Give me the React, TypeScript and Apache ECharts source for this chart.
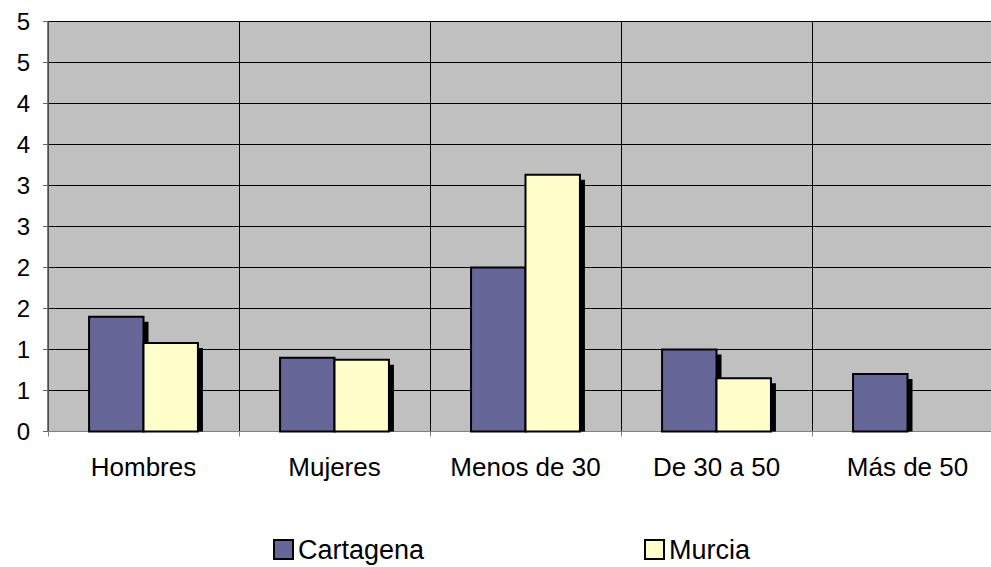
import React, { useEffect, useRef } from "react";
import * as echarts from "echarts";

const categories = ["Hombres", "Mujeres", "Menos de 30", "De 30 a 50", "Más de 50"];
const cartagena = [1.4, 0.9, 2.0, 1.0, 0.7];
const murcia = [1.08, 0.875, 3.13, 0.65, 0];
const yTickLabels = ["0", "1", "1", "2", "2", "3", "3", "4", "4", "5", "5"];
const seriesNames = ["Cartagena", "Murcia"];
const seriesColors = ["#666699", "#FFFFCC"];

const FONT = "'Liberation Sans', Arial, sans-serif";

export default function App() {
  const ref = useRef<HTMLDivElement>(null);
  useEffect(() => {
    if (!ref.current) return;
    const chart = echarts.init(ref.current, undefined, { renderer: "svg" });

    const renderItem = (params: any, api: any) => {
      const cat = api.value(0);
      const val = api.value(1);
      if (!(val > 0)) return null;
      const top = api.coord([cat, val]);
      const base = api.coord([cat, 0]);
      const catW = api.size([1, 0])[0];
      const barW = catW * 0.285;
      const x = top[0] - barW + params.seriesIndex * barW;
      const h = base[1] - top[1];
      return {
        type: "group",
        children: [
          {
            type: "rect",
            shape: { x: x + 5, y: top[1] + 5, width: barW, height: Math.max(h - 5, 0) },
            style: { fill: "#000" },
          },
          {
            type: "rect",
            shape: { x, y: top[1], width: barW, height: h },
            style: { fill: seriesColors[params.seriesIndex], stroke: "#000", lineWidth: 2 },
          },
        ],
      };
    };

    const mkData = (arr: number[]) => arr.map((v, i) => [i, v]);

    const legendBase = {
      top: 536,
      padding: 0,
      itemWidth: 19,
      itemHeight: 19,
      selectedMode: false,
      textStyle: { fontSize: 27, color: "#000", fontFamily: FONT },
    };

    chart.setOption({
      animation: false,
      backgroundColor: "#fff",
      textStyle: { fontFamily: FONT },
      grid: {
        left: 48,
        top: 21.5,
        right: 0,
        bottom: 135.5,
        show: true,
        backgroundColor: "#C0C0C0",
        borderColor: "#808080",
        borderWidth: 1,
      },
      legend: [
        {
          ...legendBase,
          data: [{ name: seriesNames[0], icon: "rect", itemStyle: { color: seriesColors[0], borderColor: "#000", borderWidth: 2 } }],
          left: 273,
        },
        {
          ...legendBase,
          data: [{ name: seriesNames[1], icon: "rect", itemStyle: { color: seriesColors[1], borderColor: "#000", borderWidth: 2 } }],
          left: 644,
        },
      ],
      xAxis: {
        type: "category",
        data: categories,
        axisLine: { show: true, lineStyle: { color: "#808080", width: 1 } },
        axisTick: { show: true, interval: 0, length: 5, lineStyle: { color: "#808080" } },
        axisLabel: { interval: 0, fontSize: 26, color: "#000", margin: 22, fontFamily: FONT },
        splitLine: { show: true, interval: 0, lineStyle: { color: "#000", width: 1 } },
      },
      yAxis: {
        type: "value",
        min: 0,
        max: 5,
        interval: 0.5,
        axisLine: { show: true, lineStyle: { color: "#666", width: 1.5 } },
        axisTick: { show: true, length: 5, lineStyle: { color: "#666" } },
        axisLabel: {
          fontSize: 24,
          color: "#000",
          margin: 18,
          fontFamily: FONT,
          formatter: (v: number) => yTickLabels[Math.round(v / 0.5)] ?? "",
        },
        splitLine: { show: true, lineStyle: { color: "#000", width: 1 } },
      },
      series: [
        {
          name: seriesNames[0],
          type: "custom",
          renderItem,
          data: mkData(cartagena),
          itemStyle: { color: seriesColors[0] },
          encode: { x: 0, y: 1 },
        },
        {
          name: seriesNames[1],
          type: "custom",
          renderItem,
          data: mkData(murcia),
          itemStyle: { color: seriesColors[1] },
          encode: { x: 0, y: 1 },
        },
      ],
    });
    return () => chart.dispose();
  }, []);
  return (
    <div style={{ position: "absolute", left: 0, top: 0, width: 991, height: 567, overflow: "hidden" }}>
      <div ref={ref} style={{ width: 1003, height: 567 }} />
    </div>
  );
}
